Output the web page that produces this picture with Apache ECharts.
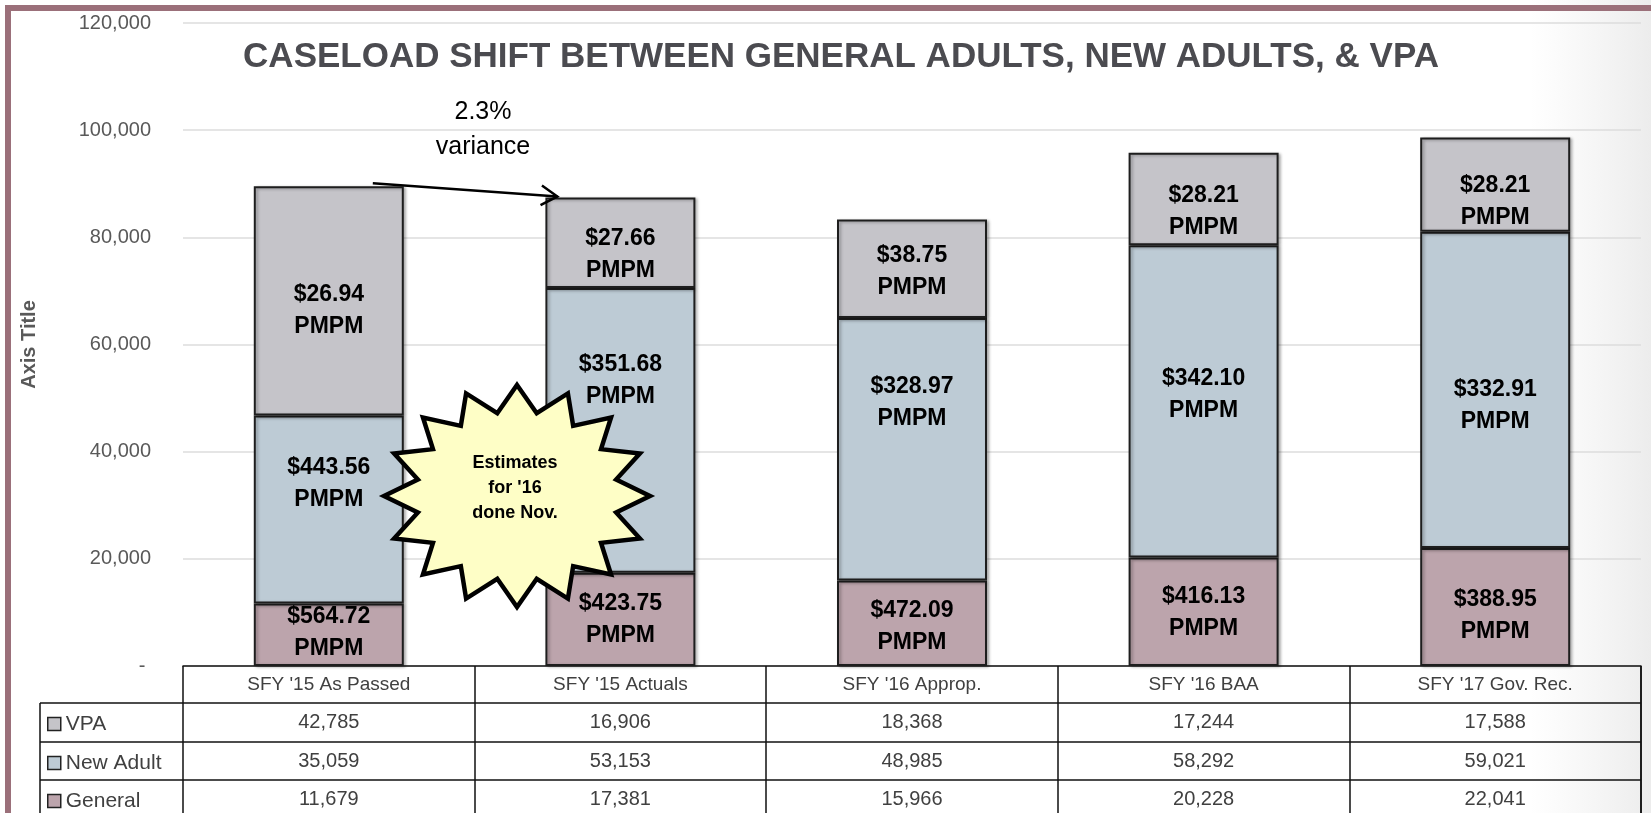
<!DOCTYPE html>
<html>
<head>
    <title>Caseload Shift Between General Adults, New Adults, & VPA</title>
    <script src="https://cdn.jsdelivr.net/npm/echarts@6.0.0/dist/echarts.min.js"></script>
    <style>
        html, body {
            margin: 0;
            padding: 0;
            background-color: #ffffff;
        }
        #chart {
            width: 1651px;
            height: 813px;
        }
    </style>
</head>
<body>
    <div id="chart"></div>

    <script>
        // chart data
        var categories = ["SFY '15 As Passed", "SFY '15 Actuals", "SFY '16 Approp.", "SFY '16 BAA", "SFY '17 Gov. Rec."];
        var vpa = [42785, 16906, 18368, 17244, 17588];
        var newAdult = [35059, 53153, 48985, 58292, 59021];
        var general = [11679, 17381, 15966, 20228, 22041];

        // PMPM costs shown inside the bar segments
        var vpaPmpm = ['26.94', '27.66', '38.75', '28.21', '28.21'];
        var newAdultPmpm = ['443.56', '351.68', '328.97', '342.10', '332.91'];
        var generalPmpm = ['564.72', '423.75', '472.09', '416.13', '388.95'];

        var yTicks = [0, 20000, 40000, 60000, 80000, 100000, 120000];

        // labels were nudged by hand in the original slide (pixels, layout only)
        var vpaNudge = [10, 12, 3, 13, 17];
        var newAdultNudge = [-26, -50, -47, -7, 16];
        var generalNudge = [-2, 0, 3, 1, 9];

        var FONT = 'Liberation Sans, Arial, sans-serif';
        var colors = {
            vpa: '#c5c4c9',
            newAdult: '#bdcbd5',
            general: '#bca4ac'
        };

        function fmt(n) {
            return n.toLocaleString('en-US');
        }

        function buildData(values, nudge) {
            return values.map(function (v, i) {
                return { value: v, label: { offset: [0, nudge[i]] } };
            });
        }

        function makeSeries(name, values, pmpm, nudge, color) {
            return {
                name: name,
                type: 'bar',
                stack: 'total',
                barWidth: 150,
                data: buildData(values, nudge),
                itemStyle: {
                    color: color,
                    borderColor: '#1e1e1e',
                    borderWidth: 2,
                    shadowColor: 'rgba(0,0,0,0.3)',
                    shadowBlur: 3,
                    shadowOffsetX: 2,
                    shadowOffsetY: 1
                },
                label: {
                    show: true,
                    position: 'inside',
                    fontFamily: FONT,
                    fontWeight: 'bold',
                    fontSize: 23,
                    lineHeight: 32,
                    color: '#000000',
                    formatter: function (p) {
                        return '$' + pmpm[p.dataIndex] + '\nPMPM';
                    }
                }
            };
        }

        function rowAxis(values, offset) {
            return {
                type: 'category',
                data: categories,
                position: 'bottom',
                offset: offset,
                axisLine: { show: false },
                axisTick: { show: false },
                axisLabel: {
                    interval: 0,
                    margin: 19,
                    verticalAlign: 'middle',
                    fontFamily: FONT,
                    fontSize: 20,
                    color: '#404040',
                    formatter: function (v, i) {
                        return fmt(values[i]);
                    }
                }
            };
        }

        // one legend per table row, so each sits in its own row
        function rowLegend(name, top) {
            return {
                orient: 'horizontal',
                left: 47,
                top: top,
                padding: 0,
                itemWidth: 13,
                itemHeight: 13,
                selectedMode: false,
                icon: 'rect',
                data: [name],
                itemStyle: { borderColor: '#222222', borderWidth: 1.5, shadowBlur: 0, shadowOffsetX: 0, shadowOffsetY: 0 },
                textStyle: { fontFamily: FONT, fontSize: 21, color: '#404040' }
            };
        }

        var chart = echarts.init(document.getElementById('chart'));

        var option = {
            animation: false,
            backgroundColor: '#ffffff',
            title: {
                text: 'CASELOAD SHIFT BETWEEN GENERAL ADULTS, NEW ADULTS, & VPA',
                left: 836,
                top: 22,
                textAlign: 'center',
                textStyle: {
                    fontFamily: FONT,
                    fontWeight: 'bold',
                    fontSize: 35,
                    color: '#4b4b50'
                }
            },
            legend: [
                rowLegend('VPA', 706),
                rowLegend('New Adult', 745),
                rowLegend('General', 783)
            ],
            grid: {
                left: 183,
                right: 10,
                top: 23,
                bottom: 147,
                outerBoundsMode: 'none'
            },
            xAxis: [
                {
                    type: 'category',
                    data: categories,
                    position: 'bottom',
                    axisLine: { show: true, lineStyle: { color: '#111111', width: 1.5 } },
                    axisTick: {
                        show: true,
                        interval: 0,
                        length: 147,
                        lineStyle: { color: '#111111', width: 1.5 }
                    },
                    axisLabel: {
                        interval: 0,
                        margin: 19,
                        verticalAlign: 'middle',
                        fontFamily: FONT,
                        fontSize: 19,
                        color: '#404040'
                    }
                },
                rowAxis(vpa, 37),
                rowAxis(newAdult, 76),
                rowAxis(general, 114)
            ],
            yAxis: {
                type: 'value',
                min: yTicks[0],
                max: yTicks[yTicks.length - 1],
                interval: yTicks[1] - yTicks[0],
                name: 'Axis Title',
                nameLocation: 'middle',
                nameGap: 136,
                nameTextStyle: {
                    fontFamily: FONT,
                    fontWeight: 'bold',
                    fontSize: 20,
                    color: '#595959'
                },
                axisLine: { show: false },
                axisTick: { show: false },
                splitLine: { lineStyle: { color: '#dcdcdc', width: 1.5 } },
                axisLabel: {
                    margin: 32,
                    fontFamily: FONT,
                    fontSize: 20,
                    color: '#595959',
                    formatter: function (v) {
                        return v === 0 ? '- ' : fmt(v);
                    }
                }
            },
            series: [
                makeSeries('General', general, generalPmpm, generalNudge, colors.general),
                makeSeries('New Adult', newAdult, newAdultPmpm, newAdultNudge, colors.newAdult),
                makeSeries('VPA', vpa, vpaPmpm, vpaNudge, colors.vpa)
            ]
        };

        chart.setOption(option);

        // ---- decorations: frame, table lines, variance arrow, starburst ----
        var totals = categories.map(function (c, i) {
            return vpa[i] + newAdult[i] + general[i];
        });
        var top0 = chart.convertToPixel({ xAxisIndex: 0, yAxisIndex: 0 }, [0, totals[0]]);
        var top1 = chart.convertToPixel({ xAxisIndex: 0, yAxisIndex: 0 }, [1, totals[1]]);
        var start = [top0[0] + 44, top0[1] - 3];
        var end = [top1[0] - 63, top1[1] - 1];

        var ang = Math.atan2(end[1] - start[1], end[0] - start[0]);
        var headLen = 19, headAng = 0.55;
        var wing1 = [end[0] - headLen * Math.cos(ang - headAng), end[1] - headLen * Math.sin(ang - headAng)];
        var wing2 = [end[0] - headLen * Math.cos(ang + headAng), end[1] - headLen * Math.sin(ang + headAng)];

        // 16 point star
        var star = [];
        var cx = 517, cy = 496, rx = 133, ry = 111;
        for (var k = 0; k < 32; k++) {
            var a = -Math.PI / 2 + k * Math.PI / 16;
            var r = k % 2 === 0 ? 1 : 0.76;
            star.push([cx + rx * r * Math.cos(a), cy + ry * r * Math.sin(a)]);
        }

        var tableTop = 666, rowLines = [703, 742, 780], tableLeft = 40, tableRight = 1641;
        var tableLine = { stroke: '#111111', lineWidth: 1.5 };

        var graphics = [
            {
                type: 'rect', z: -10, silent: true,
                shape: { x: 1530, y: 0, width: 121, height: 813 },
                style: {
                    fill: new echarts.graphic.LinearGradient(0, 0, 1, 0, [
                        { offset: 0, color: 'rgba(240,240,240,0)' },
                        { offset: 1, color: 'rgba(236,236,236,1)' }
                    ])
                }
            },
            { type: 'rect', z: 50, shape: { x: 5, y: 5, width: 1646, height: 6 }, style: { fill: '#9b707a' } },
            { type: 'rect', z: 50, shape: { x: 5, y: 5, width: 6, height: 808 }, style: { fill: '#9b707a' } },
            { type: 'line', z: 50, shape: { x1: tableLeft, y1: rowLines[0], x2: tableLeft, y2: 813 }, style: tableLine },
            { type: 'line', z: 50, shape: { x1: tableRight, y1: tableTop, x2: tableRight, y2: 813 }, style: tableLine }
        ];
        rowLines.forEach(function (y) {
            graphics.push({ type: 'line', z: 50, shape: { x1: tableLeft, y1: y, x2: tableRight, y2: y }, style: tableLine });
        });

        graphics.push(
            {
                type: 'text', z: 100,
                x: 483, y: 130,
                style: {
                    text: '2.3%\nvariance',
                    fontFamily: FONT,
                    fontSize: 25,
                    lineHeight: 35,
                    fill: '#000000',
                    align: 'center',
                    verticalAlign: 'middle'
                }
            },
            {
                type: 'line', z: 100,
                shape: { x1: start[0], y1: start[1], x2: end[0], y2: end[1] },
                style: { stroke: '#000000', lineWidth: 2.5 }
            },
            {
                type: 'polyline', z: 100,
                shape: { points: [wing1, end, wing2] },
                style: { stroke: '#000000', lineWidth: 2.5, fill: null }
            },
            {
                type: 'polygon', z: 100,
                shape: { points: star },
                style: { fill: '#fefec6', stroke: '#000000', lineWidth: 4.5, lineJoin: 'miter' }
            },
            {
                type: 'text', z: 101,
                x: 515, y: 488,
                style: {
                    text: "Estimates\nfor '16\ndone Nov.",
                    fontFamily: FONT,
                    fontWeight: 'bold',
                    fontSize: 18,
                    lineHeight: 25,
                    fill: '#000000',
                    align: 'center',
                    verticalAlign: 'middle'
                }
            }
        );

        chart.setOption({ graphic: graphics });
    </script>
</body>
</html>
